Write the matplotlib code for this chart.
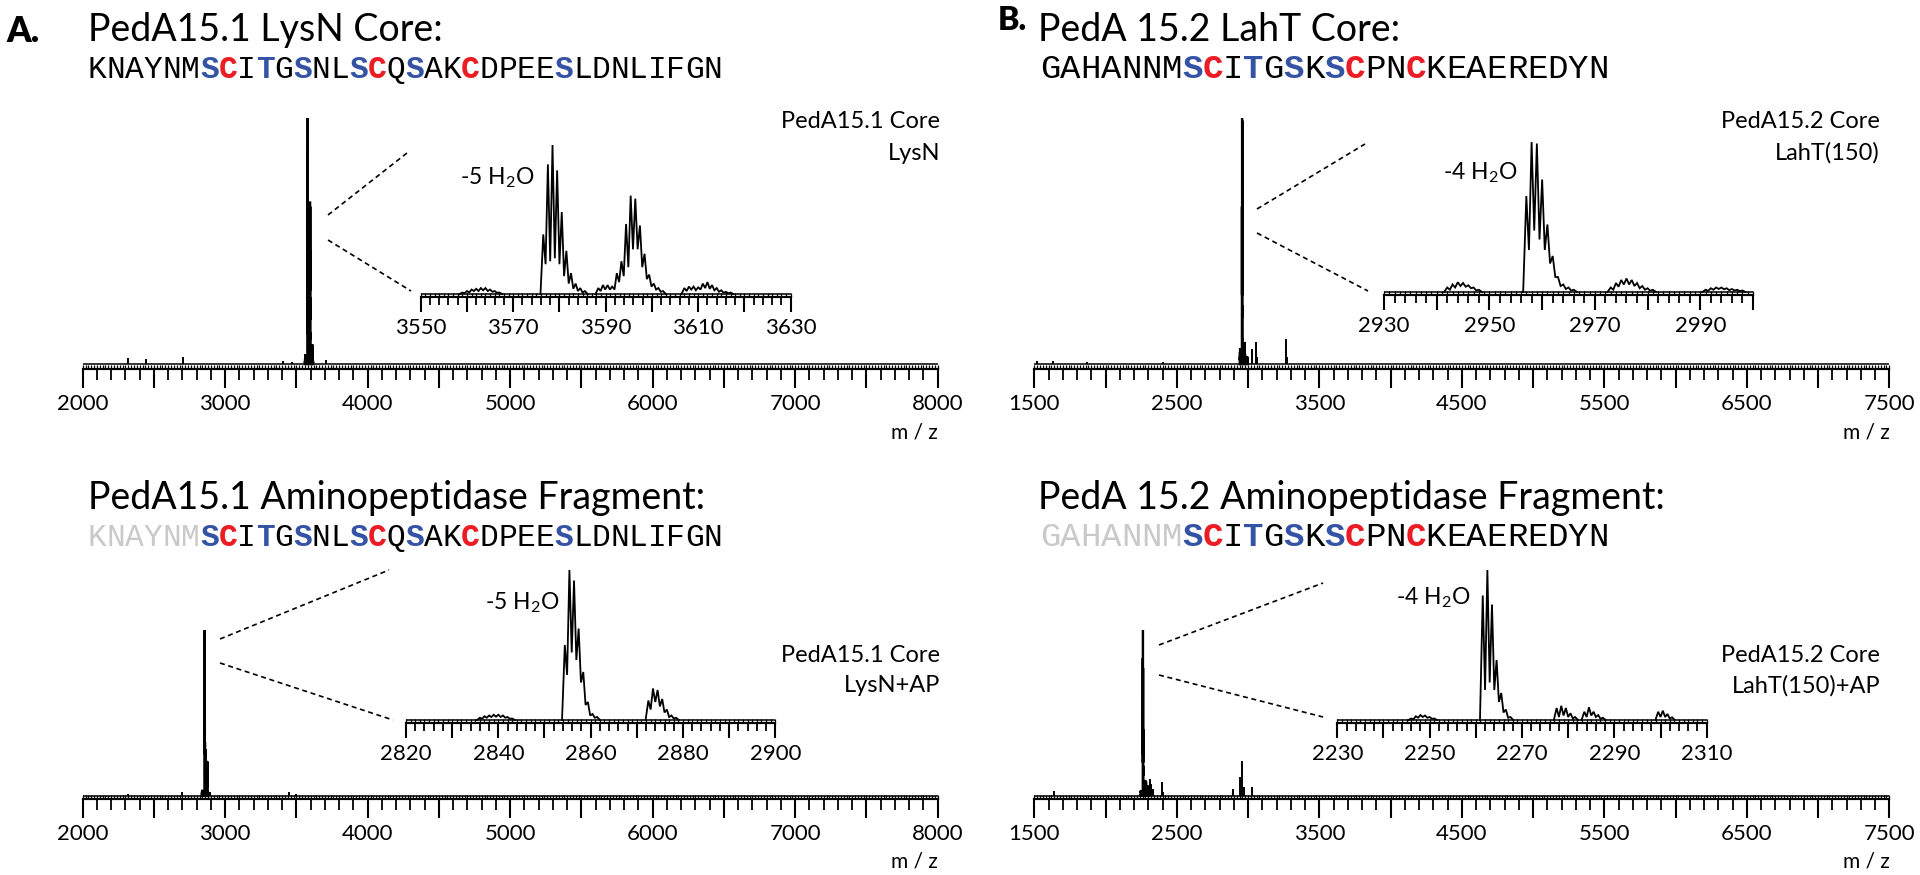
"""MALDI spectra of the PedA15.1 / PedA15.2 core peptides, with zoomed
isotope-cluster insets and the peptide sequences above each panel."""

import matplotlib
matplotlib.use("Agg")
import matplotlib.pyplot as plt
from matplotlib.lines import Line2D
from matplotlib.ticker import MultipleLocator, FuncFormatter
import numpy as np

W, H = 1920, 875
plt.rcParams["font.family"] = ["Lato", "DejaVu Sans"]
plt.rcParams["mathtext.fontset"] = "custom"
plt.rcParams["mathtext.rm"] = "Lato"
plt.rcParams["mathtext.it"] = "Lato:italic"

BLUE = "#3553a5"
RED = "#ec1c24"
GREY = "#c9c9c9"
MONO = "Liberation Mono"

# ------------------------------------------------------------------ sequences
SEQ_A = "KNAYNMSCITGSNLSCQSAKCDPEESLDNLIFGN"
SEQ_B = "GAHANNMSCITGSKSCPNCKEAEREDYN"
BLUE_A = [6, 9, 11, 14, 17, 25]
RED_A = [7, 15, 20]
BLUE_B = [7, 10, 12, 14]
RED_B = [8, 15, 18]
TRIM_A = 6   # residues removed by aminopeptidase
TRIM_B = 7

# ------------------------------------------------- isotope clusters (insets)
# first isotope m/z, relative peak tops, valley heights between peaks
A1_MZ0 = [3559, 3576.5, 3588.4, 3607]
A1_TOPS = [[0.01, 0.02, 0.03, 0.035, 0.04, 0.04, 0.03, 0.02, 0.01],
           [0.40, 0.87, 1.00, 0.83, 0.55, 0.29, 0.14, 0.07, 0.04, 0.02],
           [0.04, 0.06, 0.06, 0.05, 0.14, 0.22, 0.47, 0.66, 0.64, 0.46, 0.27, 0.13, 0.07, 0.04, 0.02],
           [0.04, 0.05, 0.05, 0.045, 0.07, 0.08, 0.06, 0.04, 0.025, 0.015, 0.01]]
A1_VALS = [[0.005, 0.01, 0.02, 0.02, 0.025, 0.02, 0.015, 0.008],
           [0.20, 0.22, 0.24, 0.20, 0.12, 0.07, 0.035, 0.02, 0.01],
           [0.02, 0.03, 0.03, 0.03, 0.08, 0.12, 0.18, 0.30, 0.30, 0.18, 0.10, 0.05, 0.03, 0.015],
           [0.02, 0.03, 0.025, 0.03, 0.04, 0.035, 0.025, 0.015, 0.008, 0.005]]

B1_MZ0 = [2942, 2957, 2973, 2991]
B1_TOPS = [[0.03, 0.05, 0.065, 0.06, 0.045, 0.03, 0.015],
           [0.64, 1.00, 0.99, 0.75, 0.45, 0.24, 0.10, 0.05, 0.03, 0.015],
           [0.03, 0.06, 0.08, 0.09, 0.08, 0.06, 0.04, 0.025, 0.015],
           [0.015, 0.025, 0.03, 0.03, 0.025, 0.02, 0.015, 0.01]]
B1_VALS = [[0.015, 0.03, 0.04, 0.035, 0.025, 0.01],
           [0.28, 0.41, 0.35, 0.28, 0.19, 0.10, 0.04, 0.02, 0.01],
           [0.015, 0.035, 0.05, 0.05, 0.04, 0.025, 0.015, 0.008],
           [0.008, 0.015, 0.02, 0.018, 0.012, 0.01, 0.006]]

A2_MZ0 = [2836, 2854.4, 2872.5]
A2_TOPS = [[0.015, 0.025, 0.03, 0.035, 0.035, 0.03, 0.02, 0.01],
           [0.50, 1.00, 0.93, 0.61, 0.32, 0.12, 0.04, 0.02],
           [0.13, 0.21, 0.20, 0.14, 0.07, 0.03, 0.015]]
A2_VALS = [[0.008, 0.015, 0.02, 0.022, 0.02, 0.015, 0.008],
           [0.30, 0.45, 0.40, 0.25, 0.10, 0.03, 0.015],
           [0.07, 0.12, 0.09, 0.05, 0.02, 0.01]]

B2_MZ0 = [2246, 2261.5, 2277.5, 2283.5, 2299.5]
B2_TOPS = [[0.01, 0.025, 0.033, 0.03, 0.02, 0.01],
           [0.83, 1.00, 0.77, 0.40, 0.18, 0.07, 0.02],
           [0.08, 0.095, 0.08, 0.045, 0.02],
           [0.055, 0.085, 0.055, 0.033, 0.015],
           [0.055, 0.062, 0.04, 0.018]]
B2_VALS = [[0.005, 0.015, 0.02, 0.015, 0.008],
           [0.20, 0.25, 0.20, 0.12, 0.05, 0.015],
           [0.02, 0.03, 0.02, 0.01],
           [0.02, 0.03, 0.02, 0.008],
           [0.02, 0.02, 0.01]]

# ------------------------------------------- other peaks in the full spectra
A1_PEAK_MZ = [2318, 2444, 2706, 3408, 3470, 3710]
A1_PEAK_I = [0.025, 0.02, 0.03, 0.012, 0.01, 0.015]
B1_PEAK_MZ = [1516, 1633, 1867, 2400, 3030, 3053, 3060, 3264, 3275]
B1_PEAK_I = [0.012, 0.012, 0.01, 0.008, 0.06, 0.09, 0.03, 0.10, 0.03]
A2_PEAK_MZ = [2320, 2700, 2866, 2890, 3450, 3500]
A2_PEAK_I = [0.01, 0.02, 0.28, 0.02, 0.02, 0.01]
B2_PEAK_MZ = [1638, 2310, 2320, 2330, 2394, 2405, 2895, 2945, 2960, 2975, 3030]
B2_PEAK_I = [0.03, 0.10, 0.07, 0.04, 0.085, 0.02, 0.04, 0.11, 0.21, 0.05, 0.05]

fig = plt.figure(figsize=(W / 100, H / 100), dpi=100)


def px_axes(left, top, right, bottom):
    """Axes placed by pixel edges (measured from the top-left corner)."""
    return fig.add_axes([left / W, 1 - bottom / H, (right - left) / W, (bottom - top) / H])


def ftext(x, y, s, **kw):
    return fig.text(x / W, 1 - y / H, s, **kw)


def profile(mz0, tops, vals):
    xs, ys = [mz0 - 0.6], [0.0]
    for i, t in enumerate(tops):
        xs.append(mz0 + i)
        ys.append(t)
        if i < len(vals):
            xs.append(mz0 + i + 0.5)
            ys.append(vals[i])
    xs.append(mz0 + len(tops) - 1 + 0.6)
    ys.append(0.0)
    return xs, ys


def style_axis(ax, lo, hi, major, minor, band, label_every, long_len, short_len, fs):
    ax.set_xlim(lo, hi)
    ax.set_ylim(-0.02, 1.0)
    for side in ("left", "right", "top"):
        ax.spines[side].set_visible(False)
    ax.spines["bottom"].set_linewidth(1.5)
    ax.set_yticks([])
    ax.patch.set_alpha(0)
    ax.xaxis.set_major_locator(MultipleLocator(major))
    ax.xaxis.set_minor_locator(MultipleLocator(minor))
    ax.xaxis.set_major_formatter(FuncFormatter(
        lambda v, _: f"{v:.0f}" if abs((v - lo) % label_every) < 1e-6 else ""))
    ax.tick_params(which="major", direction="out", length=long_len, width=1.5, labelsize=fs, pad=4)
    ax.tick_params(which="minor", direction="out", length=short_len, width=1.3)
    ax.axhline(0, color="black", lw=1.1)
    sec = ax.secondary_xaxis("bottom")
    sec.set_xticks(np.arange(lo, hi + band / 2, band))
    sec.tick_params(direction="in", length=3, width=0.9, labelbottom=False)
    sec.spines["bottom"].set_linewidth(1.5)


def draw_clusters(ax, mz0s, tops, vals, lw):
    for m, t, v in zip(mz0s, tops, vals):
        xs, ys = profile(m, t, v)
        ax.plot(xs, ys, color="black", lw=lw, solid_joinstyle="miter")


def main_panel(box, lo, hi, mz0s, tops, vals, pk_mz, pk_i):
    ax = px_axes(*box)
    style_axis(ax, lo, hi, 500, 100, 20, 1000, 14, 8, 16)
    draw_clusters(ax, mz0s, tops, vals, 1.6)
    ax.vlines(pk_mz, 0, pk_i, color="black", lw=1.4)
    return ax


def inset_panel(box, lo, hi, mz0s, tops, vals):
    ax = px_axes(*box)
    style_axis(ax, lo, hi, 10, 2, 1, 20, 11, 6, 16)
    draw_clusters(ax, mz0s, tops, vals, 1.3)
    return ax


def sequence(x0, y, seq, blue, red, trim, adv, size):
    for i, ch in enumerate(seq):
        color, weight = "black", "normal"
        if i < trim:
            color = GREY
        elif i in blue:
            color, weight = BLUE, "bold"
        elif i in red:
            color, weight = RED, "bold"
        ftext(x0 + i * adv, y, ch, family=MONO, size=size, color=color,
              weight=weight, ha="left", va="center")


def connector(p0, p1):
    fig.add_artist(Line2D([p0[0] / W, p1[0] / W], [1 - p0[1] / H, 1 - p1[1] / H],
                          transform=fig.transFigure, color="black", lw=1.2,
                          dashes=(3, 2.2)))


# ------------------------------------------------------------------ panels
main_panel((82.7, 118, 937.7, 369), 2000, 8000, A1_MZ0, A1_TOPS, A1_VALS, A1_PEAK_MZ, A1_PEAK_I)
main_panel((1034.3, 118, 1889.3, 369), 1500, 7500, B1_MZ0, B1_TOPS, B1_VALS, B1_PEAK_MZ, B1_PEAK_I)
main_panel((82.7, 630, 937.7, 799), 2000, 8000, A2_MZ0, A2_TOPS, A2_VALS, A2_PEAK_MZ, A2_PEAK_I)
main_panel((1034.3, 630, 1889.3, 799), 1500, 7500, B2_MZ0, B2_TOPS, B2_VALS, B2_PEAK_MZ, B2_PEAK_I)

inset_panel((420.7, 145, 790.7, 297), 3550, 3630, A1_MZ0, A1_TOPS, A1_VALS)
inset_panel((1384, 142, 1753, 295), 2930, 3000, B1_MZ0, B1_TOPS, B1_VALS)
inset_panel((406, 570, 775.3, 723), 2820, 2900, A2_MZ0, A2_TOPS, A2_VALS)
inset_panel((1337.3, 570, 1706.7, 723), 2230, 2310, B2_MZ0, B2_TOPS, B2_VALS)

connector((328, 215), (407, 153))
connector((328, 240), (411, 291))
connector((1257, 209), (1365, 144))
connector((1257, 233), (1368, 291))
connector((220, 639), (389, 570))
connector((220, 663), (393, 720))
connector((1159, 645), (1323, 583))
connector((1159, 675), (1323, 717))

# ------------------------------------------------------------------- text
ftext(6, 32, "A.", size=25, weight="heavy", va="center")
ftext(998, 20, "B.", size=23, weight="heavy", va="center")
ftext(88, 30, "PedA15.1 LysN Core:", size=27, va="center")
ftext(1038, 30, "PedA 15.2 LahT Core:", size=27, va="center")
ftext(88, 498, "PedA15.1 Aminopeptidase Fragment:", size=27, va="center")
ftext(1038, 498, "PedA 15.2 Aminopeptidase Fragment:", size=27, va="center")

sequence(88, 70, SEQ_A, BLUE_A, RED_A, 0, 18.65, 22.5)
sequence(1040, 70, SEQ_B, BLUE_B, RED_B, 0, 20.3, 24.5)
sequence(88, 538, SEQ_A, BLUE_A, RED_A, TRIM_A, 18.65, 22.5)
sequence(1040, 538, SEQ_B, BLUE_B, RED_B, TRIM_B, 20.3, 24.5)

for x, y, lines in [(940, 122, ("PedA15.1 Core", "LysN")),
                    (1880, 122, ("PedA15.2 Core", "LahT(150)")),
                    (940, 655, ("PedA15.1 Core", "LysN+AP")),
                    (1880, 655, ("PedA15.2 Core", "LahT(150)+AP"))]:
    ftext(x, y, lines[0], size=17, ha="right", va="center")
    ftext(x, y + 31, lines[1], size=17, ha="right", va="center")

ftext(460, 178, "-5 H$_2$O", size=16.5, va="center")
ftext(1443, 173, "-4 H$_2$O", size=16.5, va="center")
ftext(485, 603, "-5 H$_2$O", size=16.5, va="center")
ftext(1396, 598, "-4 H$_2$O", size=16.5, va="center")

ftext(937.7, 432, "m / z", size=15, ha="right", va="center")
ftext(1889.3, 432, "m / z", size=15, ha="right", va="center")
ftext(937.7, 862, "m / z", size=15, ha="right", va="center")
ftext(1889.3, 862, "m / z", size=15, ha="right", va="center")

fig.savefig("out.png", dpi=100)
